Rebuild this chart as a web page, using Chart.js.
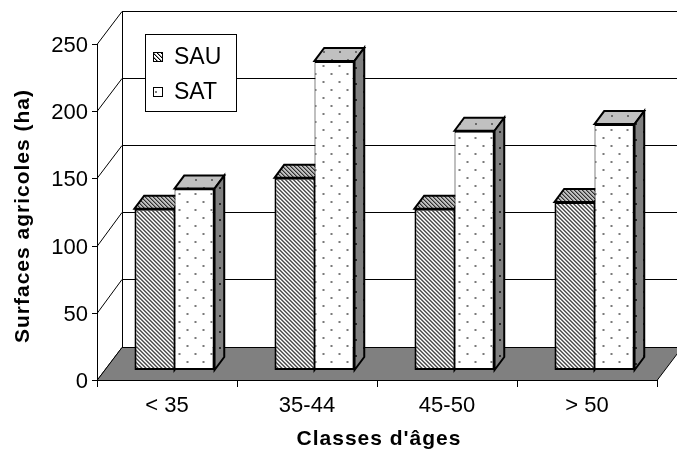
<!DOCTYPE html>
<html>
<head>
<meta charset="utf-8">
<title>Surfaces agricoles par classes d'âges</title>
<script src="https://cdn.jsdelivr.net/npm/chart.js@4.4.1/dist/chart.umd.min.js"></script>
<style>
  html, body { margin: 0; padding: 0; background: #fff; }
  #wrap { width: 677px; height: 454px; }
</style>
</head>
<body>
<div id="wrap"><canvas id="chart" width="677" height="454"></canvas></div>
<script>
// Data
const categories = ['< 35', '35-44', '45-50', '> 50'];
const sauValues = [120, 143, 120, 125];
const satValues = [135, 230, 178, 183];
const seriesNames = ['SAU', 'SAT'];
const yTicks = [0, 50, 100, 150, 200, 250];
const xTitle = "Classes d'âges";
const yTitle = 'Surfaces agricoles (ha)';

// Oblique projection used for the 3D look (front plane -> bar plane -> back wall)
const PROJ = { wallDx: 25, wallDy: -33.5, barDx: 7.5, barDy: -10, sideDx: 9.7, sideDy: -13 };
const FONT = "'Liberation Sans', Arial, sans-serif";

function makeTile(w, h, bg, paint) {
  const c = document.createElement('canvas');
  c.width = w; c.height = h;
  const g = c.getContext('2d');
  g.fillStyle = bg; g.fillRect(0, 0, w, h);
  paint(g);
  return document.createElement('canvas').getContext('2d').createPattern(c, 'repeat');
}
function hatch(bg, fg, soft) {
  return makeTile(4, 4, bg, g => {
    for (let i = 0; i < 4; i++) {
      g.fillStyle = fg; g.fillRect(i, i, 1, 1);
      g.fillStyle = soft; g.fillRect((i + 1) % 4, i, 1, 1);
    }
  });
}
function dots(bg, fg) {
  return makeTile(16, 16, bg, g => {
    g.fillStyle = fg;
    g.fillRect(3, 3, 2, 2);
    g.fillRect(11, 11, 2, 2);
  });
}

const faces = [
  { front: hatch('#ffffff', '#000000', '#9a9a9a'), top: hatch('#c0c0c0', '#303030', '#808080'), side: hatch('#808080', '#202020', '#606060') },
  { front: dots('#ffffff', '#7a7a7a'), top: dots('#c0c0c0', '#6a6a6a'), side: dots('#808080', '#2a2a2a') }
];

function line(ctx, x1, y1, x2, y2) {
  ctx.beginPath(); ctx.moveTo(x1, y1); ctx.lineTo(x2, y2); ctx.stroke();
}
function poly(ctx, pts, fill) {
  ctx.beginPath();
  pts.forEach((p, i) => i ? ctx.lineTo(p[0], p[1]) : ctx.moveTo(p[0], p[1]));
  ctx.closePath();
  ctx.fillStyle = fill; ctx.fill();
  ctx.stroke();
}
const crisp = v => Math.round(v) + 0.5;

const scene3d = {
  id: 'scene3d',
  beforeDatasetsDraw(chart) {
    const { ctx, chartArea: a, scales: { x, y } } = chart;
    const L = a.left, R = a.right, B = y.getPixelForValue(0);
    ctx.save();
    ctx.strokeStyle = '#000';
    ctx.lineWidth = 1;
    // back wall grid and left wall diagonals
    yTicks.forEach(v => {
      const fy = y.getPixelForValue(v);
      const by = crisp(fy + PROJ.wallDy);
      if (v > 0) line(ctx, L + PROJ.wallDx, by, R + PROJ.wallDx, by);
      line(ctx, L, crisp(fy), L + PROJ.wallDx, by);
    });
    const wx = crisp(L + PROJ.wallDx);
    line(ctx, wx, crisp(y.getPixelForValue(yTicks[yTicks.length - 1]) + PROJ.wallDy), wx, crisp(B + PROJ.wallDy));
    // floor
    poly(ctx, [[L, crisp(B)], [R, crisp(B)], [R + PROJ.wallDx, crisp(B + PROJ.wallDy)], [L + PROJ.wallDx, crisp(B + PROJ.wallDy)]], '#808080');

    // top and right faces of every bar, drawn before the front faces
    ctx.lineWidth = 2;
    ctx.lineJoin = 'miter';
    chart.data.datasets.forEach((ds, di) => {
      const meta = chart.getDatasetMeta(di);
      meta.data.forEach(bar => {
        const p = bar.getProps(['x', 'y', 'base', 'width'], true);
        const l = p.x - p.width / 2 + PROJ.barDx, r = p.x + p.width / 2 + PROJ.barDx;
        const t = p.y + PROJ.barDy, b = p.base + PROJ.barDy;
        const sx = PROJ.sideDx, sy = PROJ.sideDy;
        poly(ctx, [[l, t], [l + sx, t + sy], [r + sx, t + sy], [r, t]], faces[di].top);
        poly(ctx, [[r, t], [r + sx, t + sy], [r + sx, b + sy], [r, b]], faces[di].side);
      });
    });
    ctx.restore();
  },
  beforeDatasetDraw(chart) {
    chart.ctx.save();
    chart.ctx.translate(PROJ.barDx, PROJ.barDy);
  },
  afterDatasetDraw(chart) {
    chart.ctx.restore();
  },
  afterDatasetsDraw(chart) {
    const { ctx, chartArea: a, scales: { x, y } } = chart;
    const L = a.left, B = y.getPixelForValue(0);
    const step = x.getPixelForValue(1) - x.getPixelForValue(0);
    ctx.save();
    ctx.strokeStyle = '#000';
    ctx.lineWidth = 1;
    // value axis on the front plane
    line(ctx, crisp(L), y.getPixelForValue(yTicks[yTicks.length - 1]), crisp(L), crisp(B));
    ctx.fillStyle = '#000';
    ctx.font = '22px ' + FONT;
    ctx.textAlign = 'right';
    ctx.textBaseline = 'middle';
    yTicks.forEach(v => {
      const py = crisp(y.getPixelForValue(v));
      line(ctx, L - 5, py, L, py);
      ctx.fillText(String(v), L - 9, py + 1);
    });
    // category axis
    line(ctx, L, crisp(B), a.right, crisp(B));
    categories.forEach((c, i) => {
      const cx = x.getPixelForValue(i);
      const edge = crisp(cx - step / 2);
      line(ctx, edge, B, edge, B + 7);
      if (i === categories.length - 1) line(ctx, crisp(cx + step / 2), B, crisp(cx + step / 2), B + 7);
      ctx.textAlign = 'center';
      ctx.fillText(c, cx, B + 26);
    });
    // axis titles
    ctx.font = 'bold 21px ' + FONT;
    ctx.letterSpacing = '1px';
    ctx.textAlign = 'center';
    ctx.fillText(xTitle, (L + a.right) / 2 + 2, B + 59);
    ctx.save();
    ctx.translate(23, 216);
    ctx.rotate(-Math.PI / 2);
    ctx.fillText(yTitle, 0, 0);
    ctx.restore();
    ctx.letterSpacing = '0px';
    // legend
    ctx.fillStyle = '#fff';
    ctx.fillRect(145.5, 34.5, 91, 77);
    ctx.strokeRect(145.5, 34.5, 91, 77);
    ctx.font = '23px ' + FONT;
    ctx.textAlign = 'left';
    chart.data.datasets.forEach((ds, di) => {
      const cy = 57 + di * 35;
      ctx.fillStyle = ds.backgroundColor;
      ctx.fillRect(153, cy - 5, 10, 10);
      ctx.strokeRect(153.5, cy - 4.5, 9, 9);
      ctx.fillStyle = '#000';
      ctx.fillText(ds.label, 174, cy + 1);
    });
    ctx.restore();
  }
};

new Chart(document.getElementById('chart'), {
  type: 'bar',
  data: {
    labels: categories,
    datasets: [
      { label: seriesNames[0], data: sauValues, backgroundColor: faces[0].front, borderColor: '#000',
        borderWidth: { top: 2, left: 2, bottom: 2, right: 1 }, borderSkipped: false, clip: false },
      { label: seriesNames[1], data: satValues, backgroundColor: faces[1].front, borderColor: '#000',
        borderWidth: { top: 2, left: 1, bottom: 2, right: 2 }, borderSkipped: false, clip: false }
    ]
  },
  options: {
    responsive: false,
    animation: false,
    devicePixelRatio: 1,
    events: [],
    layout: { padding: { left: 97, right: 20, top: 44, bottom: 74 } },
    datasets: { bar: { categoryPercentage: 0.572, barPercentage: 1 } },
    plugins: { legend: { display: false }, tooltip: { enabled: false } },
    scales: {
      x: { display: false, offset: true },
      y: { display: false, min: 0, max: 250 }
    }
  },
  plugins: [scene3d]
});
</script>
</body>
</html>
